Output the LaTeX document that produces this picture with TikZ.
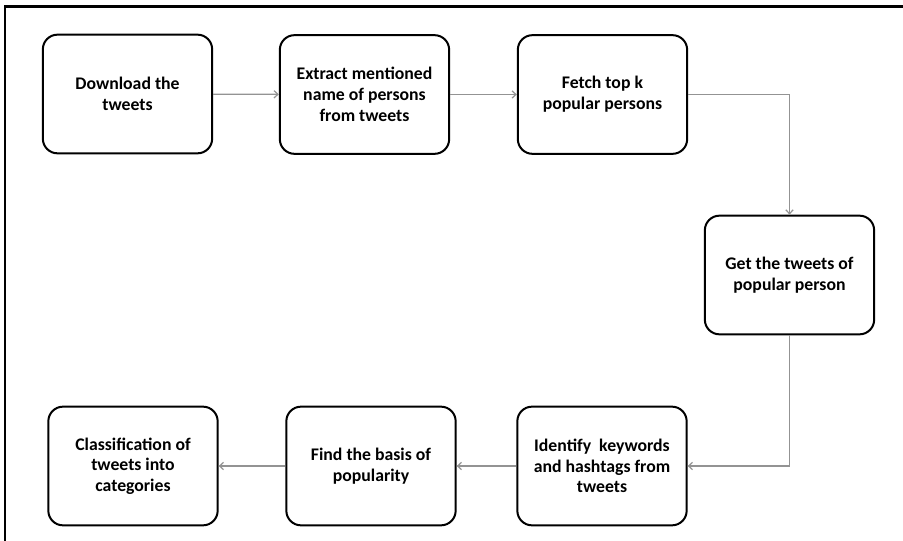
\documentclass[tikz,border=0pt]{standalone}
\usepackage{fontspec}
\setmainfont{Carlito}
\usetikzlibrary{arrows.meta}
\begin{document}
\begin{tikzpicture}[
      x=0.75pt, y=-0.75pt,
      stage/.style={draw, line width=1.5pt, rounded corners=11pt,
        minimum width=127pt, minimum height=89pt, inner sep=2pt,
        align=center, font=\fontsize{13.3}{15.5}\selectfont\bfseries},
      arr/.style={-{Straight Barb[length=3pt, width=5.5pt]}, line width=0.9pt, draw=gray!85},
    ]
      \useasboundingbox (0,0) rectangle (903,541);
      % frame (top and left only)
      \draw[line width=1.6pt] (903,6.5) -- (5,6.5) -- (5,541);

      % top row
      \node[stage] (download) at (127.5, 94) {Download the\\tweets};
      \node[stage] (extract) at (364.5, 94.5) {Extract mentioned\\name of persons\\from tweets};
      \node[stage] (fetch) at (602.5, 94.5) {Fetch top k\\popular persons};

      % right column
      \node[stage] (get) at (789.5, 275) {Get the tweets of\\popular person};

      % bottom row
      \node[stage] (identify) at (602, 466) {Identify\ \ keywords\\and hashtags from\\tweets};
      \node[stage] (basis) at (371, 466) {Find the basis of\\popularity};
      \node[stage] (classify) at (133, 466) {Classification of\\tweets into\\categories};

      \draw[arr] (download) -- (extract);
      \draw[arr] (extract) -- (fetch);
      \draw[arr] (fetch.east) -| (get.north);
      \draw[arr] (get.south) |- (identify.east);
      \draw[arr] (identify) -- (basis);
      \draw[arr] (basis) -- (classify);

    \end{tikzpicture}
\end{document}
